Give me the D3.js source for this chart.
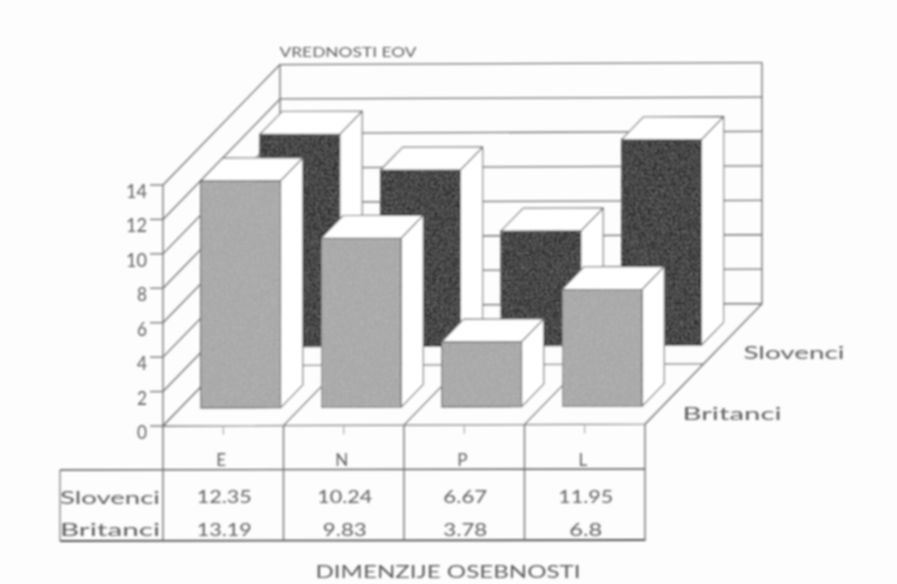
<!DOCTYPE html>
<html><head><meta charset="utf-8">
<script src="https://cdn.jsdelivr.net/npm/d3@7"></script>
<style>html,body{margin:0;padding:0;background:#fdfdfd}svg{display:block}</style>
</head><body><svg id="c" width="897" height="584"></svg>
<script>
const categories = ["E","N","P","L"];
const seriesNames = ["Slovenci","Britanci"];
const slovenci = [12.35,10.24,6.67,11.95];
const britanci = [13.19,9.83,3.78,6.8];
const slovenciLabels = ["12.35","10.24","6.67","11.95"];
const britanciLabels = ["13.19","9.83","3.78","6.8"];
const yTicks = [0,2,4,6,8,10,12,14];
const yTitle = "VREDNOSTI EOV";
const xTitle = "DIMENZIJE OSEBNOSTI";

const svg = d3.select("#c");
const defs = svg.append("defs");
const blur = defs.append("filter").attr("id","soft").attr("x","-5%").attr("y","-5%").attr("width","110%").attr("height","110%");
blur.append("feGaussianBlur").attr("stdDeviation",0.8);
// fine grain on the bar faces
const grain = defs.append("filter").attr("id","grain").attr("x","0").attr("y","0").attr("width","100%").attr("height","100%");
grain.append("feTurbulence").attr("type","fractalNoise").attr("baseFrequency",0.8).attr("numOctaves",2).attr("seed",4).attr("result","n");
grain.append("feColorMatrix").attr("in","n").attr("type","matrix")
  .attr("values","0 0 0 0 1  0 0 0 0 1  0 0 0 0 1  0 0 0 0.7 -0.33").attr("result","spk");
grain.append("feComposite").attr("in","spk").attr("in2","SourceGraphic").attr("operator","in").attr("result","c");
grain.append("feMerge").selectAll("feMergeNode").data(["SourceGraphic","c"]).join("feMergeNode").attr("in",d=>d);

const g = svg.append("g").attr("filter","url(#soft)");

const x0 = 163, floorW = 482, depthX = 117, depthY = 120;
const x = d3.scaleBand().domain(categories).range([x0,x0+floorW]);
const y = d3.scaleLinear().domain([0,14]).range([426,185]);
const depth = d3.scaleLinear().domain([0,1]).range([0,1]);
const tilt = px => -(px-x0)*0.004;
const P = (px,d,v) => { const X = px+depth(d)*depthX; return [X, y(v)-depth(d)*depthY+tilt(X)]; };
const line = d3.line();
const path = (pts,fill,stroke,sw) => g.append("path").attr("d",line(pts)+(fill!=="none"?"Z":""))
  .attr("fill",fill).attr("stroke",stroke).attr("stroke-width",sw).attr("stroke-linejoin","round");
const LC="#707070", LW=1.3;

// walls and floor
const xL=x0,xR=x0+floorW;
path([P(xL,0,0),P(xL,1,0),P(xR,1,0),P(xR,0,0)],"#fdfdfd",LC,LW);
yTicks.forEach(t=>{
  path([P(xL,1,t),P(xR,1,t)],"none",LC,LW);
  path([P(xL,0,t),P(xL,1,t)],"none",LC,LW);
  path([[xL-13,y(t)],[xL,y(t)]],"none",LC,LW);
});
path([P(xL,0,0),P(xL,0,14)],"none",LC,LW);
path([P(xL,1,0),P(xL,1,14)],"none",LC,LW);
path([P(xR,1,0),P(xR,1,14)],"none",LC,LW);
categories.forEach(c=>{
  path([P(x(c)+x.bandwidth(),0,0),P(x(c)+x.bandwidth(),1,0)],"none",LC,LW);
});
path([P(xL,0.5,0),P(xR,0.5,0)],"none",LC,LW);

// bars
const barW = 80, d0 = {Britanci:0.148, Slovenci:0.655}, dLen = 0.19;
function bar(c,val,s,fill){
  const a = x(c)+(x.bandwidth()-barW)/2, b = a+barW, d=d0[s], e=d+dLen;
  path([P(b,d,0),P(b,e,0),P(b,e,val),P(b,d,val)],"#fff","#666",1.1);
  path([P(a,d,val),P(b,d,val),P(b,e,val),P(a,e,val)],"#fff","#666",1.1);
  path([P(a,d,0),P(b,d,0),P(b,d,val),P(a,d,val)],fill,"#555",1.1).attr("filter","url(#grain)");
}
categories.forEach((c,i)=>bar(c,slovenci[i],"Slovenci","#2a2a2a"));
categories.forEach((c,i)=>bar(c,britanci[i],"Britanci","#a6a6a6"));

// table
const tTop=470,tBot=541,tL=60;
path([[tL,tTop],[xR,tTop-1]],"none","#555",1.4);
path([[tL,tBot],[xR,tBot-1]],"none","#555",1.8);
path([[tL,tTop],[tL,tBot]],"none","#777",1.2);
[xL].concat(categories.map(c=>x(c)+x.bandwidth())).forEach(v=>path([[v,P(v,0,0)[1]],[v,tBot]],"none","#666",1.3));
categories.forEach(c=>{const m=x(c)+x.bandwidth()/2;path([[m,P(m,0,0)[1]+1],[m,P(m,0,0)[1]+9]],"none","#999",1);});

// text
const T=(s,px,py,w,size,anchor)=>{const n=g.append("text").attr("x",px).attr("y",py).attr("font-family","Lato,'DejaVu Sans',sans-serif")
  .attr("font-size",size).attr("fill","#5e5e5e").attr("text-anchor",anchor||"middle").text(s);
  if(w)n.attr("textLength",w).attr("lengthAdjust","spacingAndGlyphs");return n;};
yTicks.forEach(t=>T(t,147,y(t)+13,t>=10?21:10,19,"end"));
T(yTitle,348,57,137,13.5);
T(xTitle,448,578,265,18);
T(seriesNames[0],794,359,101,18);
T(seriesNames[1],732,420,99,18);
const valW = s => s.length*11;
categories.forEach((c,i)=>{
  const m=x(c)+x.bandwidth()/2;
  T(c,m-2,466,null,17);
  T(slovenciLabels[i],m+1,503,valW(slovenciLabels[i]),17.5);
  T(britanciLabels[i],m+1,536,valW(britanciLabels[i]),17.5);
});
T(seriesNames[0],110,504,100,18);
T(seriesNames[1],110,536,100,18);
</script></body></html>
